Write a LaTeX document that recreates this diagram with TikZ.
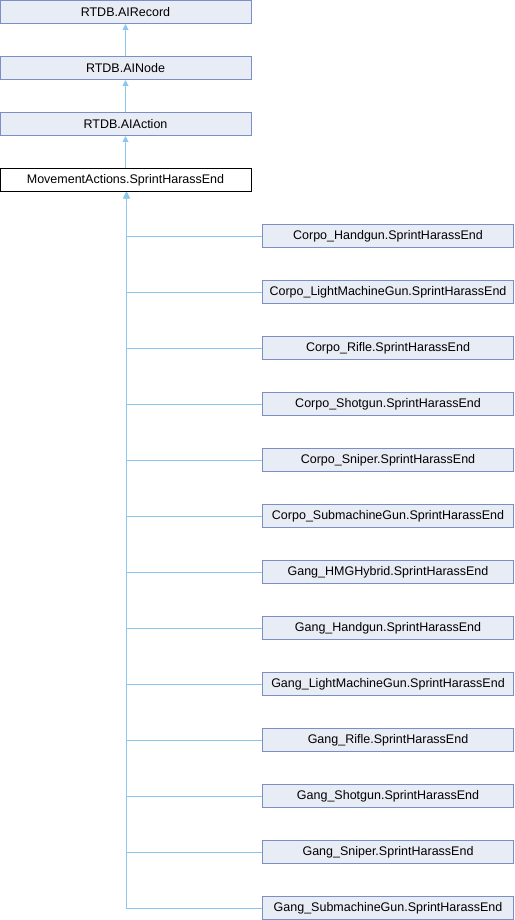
\documentclass[tikz,border=0pt]{standalone}
\usepackage{fontspec}
\setmainfont{Liberation Sans}
\usetikzlibrary{arrows.meta}
\definecolor{boxfill}{RGB}{232,236,245}
\definecolor{boxdraw}{RGB}{124,142,198}
\definecolor{edgecol}{RGB}{140,200,238}
\tikzset{
  cls/.style={draw=boxdraw, fill=boxfill, line width=1pt, minimum width=251pt, minimum height=23pt, inner sep=0pt, font=\fontsize{12.5pt}{14pt}\selectfont},
  cur/.style={cls, draw=black, fill=white},
  edge/.style={draw=edgecol, line width=1pt, -{Triangle[length=6pt,width=6pt]}},
}
\begin{document}
\begin{tikzpicture}[x=1pt,y=-1pt]
\useasboundingbox (0,0) rectangle (514,920);
\node[cls] (rec) at (125.5,12) {RTDB.AIRecord};
\node[cls] (nod) at (125.5,68) {RTDB.AINode};
\node[cls] (act) at (125.5,124) {RTDB.AIAction};
\node[cur] (mov) at (125.5,180) {MovementActions.SprintHarassEnd};
\draw[edge] (nod) -- (rec);
\draw[edge] (act) -- (nod);
\draw[edge] (mov) -- (act);
\foreach \i/\t in {0/Corpo\_Handgun, 1/Corpo\_LightMachineGun, 2/Corpo\_Rifle, 3/Corpo\_Shotgun, 4/Corpo\_Sniper, 5/Corpo\_SubmachineGun, 6/Gang\_HMGHybrid, 7/Gang\_Handgun, 8/Gang\_LightMachineGun, 9/Gang\_Rifle, 10/Gang\_Shotgun, 11/Gang\_Sniper, 12/Gang\_SubmachineGun} {
  \node[cls] (c\i) at (388,236+56*\i) {\t.SprintHarassEnd};
  \draw[edge] (c\i.west) -| ([xshift=1pt]mov.south);
}
\end{tikzpicture}
\end{document}
